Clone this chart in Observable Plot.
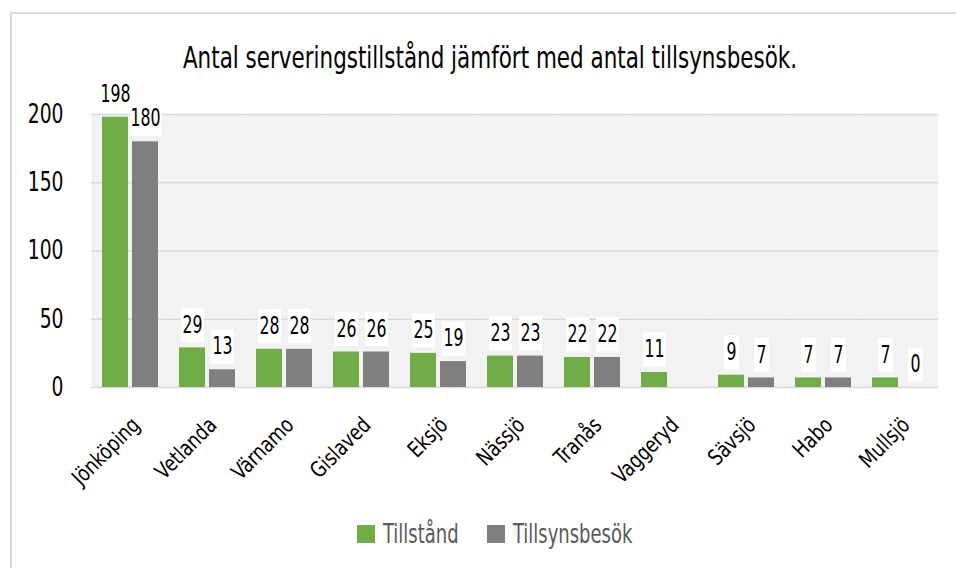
<!DOCTYPE html>
<html>
<head>
<meta charset="utf-8">
<script src="https://cdn.jsdelivr.net/npm/d3@7"></script>
<script src="https://cdn.jsdelivr.net/npm/@observablehq/plot@0.6"></script>
<style>
  html, body { margin: 0; padding: 0; background: #fff; }
  body { width: 956px; height: 568px; position: relative; overflow: hidden;
         font-family: "DejaVu Sans Condensed", "Liberation Sans Narrow", sans-serif; }
  #frame { position: absolute; left: 10px; top: 12px; width: 980px; height: 600px;
           border: 2px solid #d9d9d9; box-sizing: border-box; }
  #chart { position: absolute; left: 0; top: 0; }
  #title { position: absolute; left: 0; width: 980px; top: 35px; text-align: center;
           font-size: 31px; color: #000; line-height: 44px; white-space: nowrap;
           transform: scaleX(0.77); transform-origin: 490px 0; }
  .lg { position: absolute; }
  .sw { width: 18px; height: 18px; top: 525px; }
  .lt { top: 518px; font-size: 27px; line-height: 32px; color: #595959; white-space: nowrap;
        transform: scaleX(0.74); transform-origin: 0 0; }
</style>
</head>
<body>
<div id="frame"></div>
<div id="chart"></div>
<div id="title">Antal serveringstillstånd jämfört med antal tillsynsbesök.</div>
<div id="legend"></div>
<script>
const categories = ["Jönköping", "Vetlanda", "Värnamo", "Gislaved", "Eksjö", "Nässjö", "Tranås", "Vaggeryd", "Sävsjö", "Habo", "Mullsjö"];
const seriesNames = ["Tillstånd", "Tillsynsbesök"];
const tillstand = [198, 29, 28, 26, 25, 23, 22, 11, 9, 7, 7];
const tillsynsbesok = [180, 13, 28, 26, 19, 23, 22, null, 7, 7, 0];
const yTicks = [0, 50, 100, 150, 200];
const colors = ["#70ad47", "#7f7f7f"];

const FONT = '"DejaVu Sans Condensed", "Liberation Sans Narrow", sans-serif';

const data = categories.flatMap((c, i) => [
  {kommun: c, serie: seriesNames[0], value: tillstand[i]},
  {kommun: c, serie: seriesNames[1], value: tillsynsbesok[i]}
]).filter(d => d.value != null);

function boxSymbol(w, h) {
  return { draw(ctx) { ctx.rect(-w / 2, -h / 2, w, h); } };
}
const boxWidths = {1: 15, 2: 23, 3: 32};

const labelBoxes = [1, 2, 3].map(n => Plot.dot(data.filter(d => String(d.value).length === n), {
  fx: "kommun", x: "serie", y: "value", dy: -23, r: 5,
  symbol: boxSymbol(boxWidths[n], 34), fill: "white", stroke: null
}));

const chart = Plot.plot({
  width: 956, height: 568,
  marginLeft: 91, marginRight: 18, marginTop: 114, marginBottom: 181,
  style: {fontFamily: FONT, background: "transparent", color: "#000", overflow: "visible"},
  fx: {domain: categories, padding: 0, label: null},
  x: {domain: seriesNames, paddingInner: 4 / 30, paddingOuter: 0.35, axis: null},
  y: {domain: [0, 200], label: null},
  color: {domain: seriesNames, range: colors},
  marks: [
    Plot.frame({fill: "#f2f2f2", stroke: null}),
    Plot.gridY(yTicks, {stroke: "#d9d9d9", strokeOpacity: 1, strokeWidth: 1.5}),
    Plot.axisY(yTicks, {tickSize: 0, tickPadding: 28, fontSize: 26, fill: "#000", label: null}),
    Plot.axisFx({anchor: "bottom", tickSize: 0, tickPadding: 34, dx: 6, tickRotate: -45, fontSize: 22, fill: "#000", label: null}),
    Plot.barY(data, {fx: "kommun", x: "serie", y: "value", fill: "serie"}),
    ...labelBoxes,
    Plot.text(data, {fx: "kommun", x: "serie", y: "value", text: d => String(d.value), dy: -23,
      lineAnchor: "middle", fontSize: 24, fill: "#000"})
  ]
});
document.getElementById("chart").appendChild(chart);

// narrow the glyphs to imitate the condensed typeface of the original
function squeeze(selector, s) {
  chart.querySelectorAll(selector).forEach(t => {
    const w = t.getComputedTextLength();
    if (w > 0) {
      t.setAttribute("textLength", (w * s).toFixed(2));
      t.setAttribute("lengthAdjust", "spacingAndGlyphs");
    }
  });
}
squeeze('g[aria-label="y-axis tick label"] text', 0.8);
squeeze('g[aria-label="fx-axis tick label"] text', 0.88);
squeeze('g[aria-label="text"] text', 0.73);

const legend = document.getElementById("legend");
const legendPos = [[357, 383], [487, 513]];
seriesNames.forEach((s, i) => {
  const sw = document.createElement("div");
  sw.className = "lg sw";
  sw.style.left = legendPos[i][0] + "px";
  sw.style.background = colors[i];
  const t = document.createElement("div");
  t.className = "lg lt";
  t.style.left = legendPos[i][1] + "px";
  t.textContent = s;
  legend.appendChild(sw); legend.appendChild(t);
});
</script>
</body>
</html>
